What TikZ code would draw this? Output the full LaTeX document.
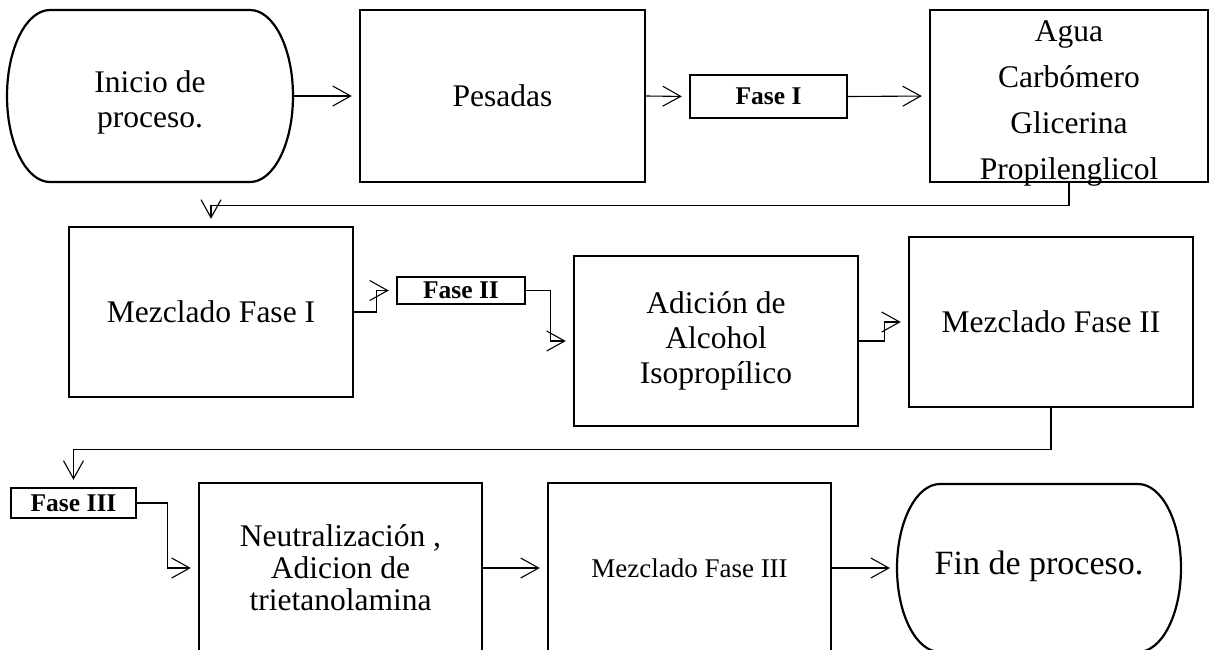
\documentclass[tikz,border=0pt]{standalone}
\usepackage{fontspec}
\setmainfont{Liberation Serif}
\usetikzlibrary{arrows.meta}

\tikzset{
  etapa/.style={draw, line width=2.4pt, minimum width=284pt, minimum height=170pt, inner sep=0pt, align=center, font=\fontsize{31.5}{35}\selectfont},
  terminal/.style={minimum width=286pt, minimum height=172pt, inner sep=0pt, outer sep=0pt},
  texto/.style={inner sep=0pt, align=center, font=\fontsize{31.5}{35}\selectfont},
  fase/.style={draw, line width=2.4pt, inner sep=0pt, font=\bfseries\fontsize{25.5}{28}\selectfont},
  flecha/.style={-{Straight Barb[length=18pt,width=20pt]}, line width=1.1pt, shorten >=7pt},
}
% borde de los nodos de inicio y fin
\newcommand{\borde}[2]{%
  \draw[line width=2.2pt] ([xshift=43pt]#1.north west) -- ([xshift=-43pt]#1.north east)
    arc[start angle=90,end angle=-90,x radius=43pt,y radius=#2pt]
    -- ([xshift=43pt]#1.south west)
    arc[start angle=270,end angle=90,x radius=43pt,y radius=#2pt] -- cycle;}

\begin{document}
\begin{tikzpicture}[x=1pt, y=-1pt]
    \clip (0,0) rectangle (1210,649);

    % fila 1
    \node[terminal] (inicio) at (150,96) {};
    \borde{inicio}{86}
    \node[texto] (iniciotxt) at ([yshift=-6pt]inicio.center) {Inicio de\\proceso.};
    \node[etapa, minimum width=285pt, minimum height=172pt] (pesadas) at (502.5,96) {Pesadas};
    \node[fase, minimum width=157pt, minimum height=43pt] (fase1) at (768.5,96.5) {Fase I};
    \node[etapa, minimum width=278pt, minimum height=172pt] (agua) at (1069,96) {};
    \node[texto, font=\fontsize{31.5}{46}\selectfont] (aguatxt) at ([yshift=-7pt]agua.center)
        {Agua\\Carbómero\\Glicerina\\Propilenglicol};

    % fila 2
    \node[etapa] (mezcla1) at (211,312) {Mezclado Fase I};
    \node[fase, minimum width=128pt, minimum height=27pt] (fase2) at (461,290.5) {Fase II};
    \node[etapa] (alcohol) at (716,341) {Adición de\\Alcohol\\Isopropílico};
    \node[etapa] (mezcla2) at (1051,322) {Mezclado Fase II};

    % fila 3
    \node[fase, minimum width=125pt, minimum height=30pt] (fase3) at (73.5,503) {Fase III};
    \node[etapa, minimum width=283pt, font=\fontsize{31.5}{32}\selectfont] (neutral) at (340.5,568)
        {Neutralización ,\\Adicion de\\trietanolamina};
    \node[etapa, minimum width=283pt, font=\fontsize{27}{30}\selectfont] (mezcla3) at (689.5,568) {Mezclado Fase III};
    \node[terminal, minimum width=284pt, minimum height=168pt] (fin) at (1039,568) {};
    \borde{fin}{84}
    \node[texto, font=\fontsize{34}{38}\selectfont] (fintxt) at ([yshift=2pt]fin.center) {Fin de proceso.};

    % conectores
    \draw[flecha] (inicio.east) -- (pesadas.west);
    \draw[flecha] (pesadas.east) -- (fase1.west);
    \draw[flecha] (fase1.east) -- (agua.west);
    \draw[flecha] (agua.south) -- ++(0,22) -| (mezcla1.north);
    \draw[flecha] (mezcla1.east) -- ++(22,0) |- (fase2.west);
    \draw[flecha] (fase2.east) -- ++(24,0) |- (alcohol.west);
    \draw[flecha] (alcohol.east) -- ++(25,0) |- (mezcla2.west);
    \draw[flecha] (mezcla2.south) -- ++(0,41) -| (fase3.north);
    \draw[flecha] (fase3.east) -- ++(30,0) |- (neutral.west);
    \draw[flecha] (neutral.east) -- (mezcla3.west);
    \draw[flecha] (mezcla3.east) -- (fin.west);

\end{tikzpicture}
\end{document}
